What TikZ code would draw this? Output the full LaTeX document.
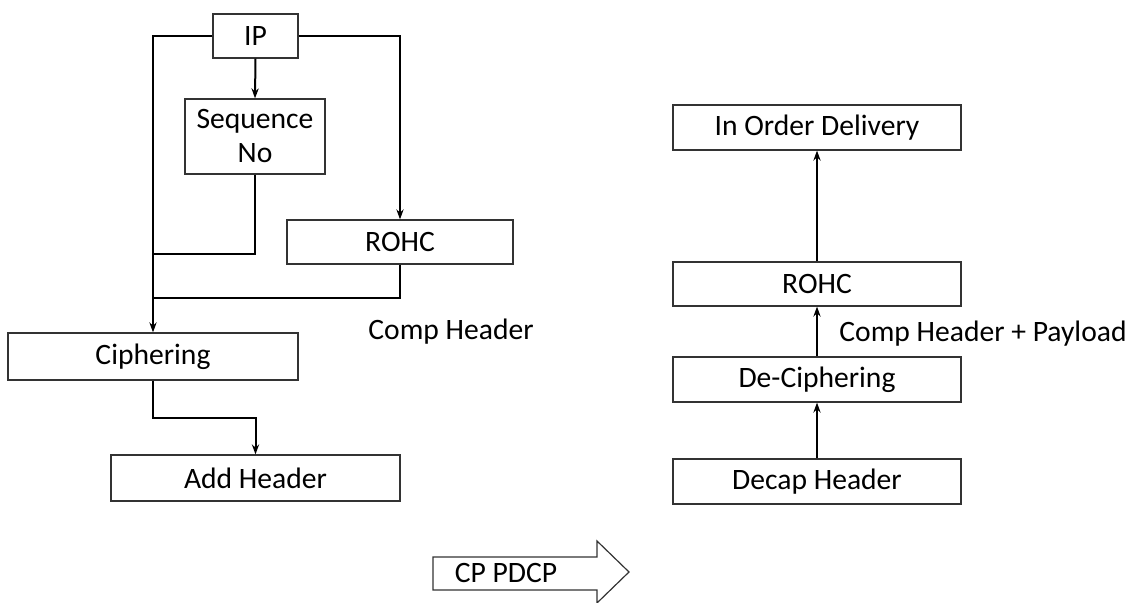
\documentclass[tikz,border=0pt]{standalone}
\usepackage{fontspec}
\setmainfont{Carlito}
\usetikzlibrary{arrows.meta}
\begin{document}
\begin{tikzpicture}[x=0.5pt,y=-0.5pt,
  font=\fontsize{14.8}{17}\selectfont,
  stagebox/.style={draw=black!80,line width=0.6pt,inner sep=0pt,align=center,minimum height=22pt},
  conn/.style={line width=1pt,black},
  arr/.style={conn,-{Stealth[length=5pt,width=3.6pt]}},
  plainlbl/.style={inner sep=0pt}]
\useasboundingbox (0,0) rectangle (1126,603);
% left side
\node[stagebox,minimum width=42.5pt] (ip) at (255.5,36) {IP};
\node[stagebox,minimum width=70pt,minimum height=37.5pt] (seq) at (255,136.5) {Sequence\\No};
\node[stagebox,minimum width=113pt] (rohcL) at (400,242) {ROHC};
\node[stagebox,minimum width=145pt,minimum height=23.5pt] (ciph) at (153,356.5) {Ciphering};
\node[stagebox,minimum width=144.5pt,minimum height=23pt] (addh) at (255.5,478) {Add Header};
\node[plainlbl] (comp) at (451,332) {Comp Header};
\coordinate (j1) at (153,254);
\coordinate (j2) at (153,298);
\draw[arr] (ip.west) -| (ciph.north);
\draw[arr] (ip.south) -- (seq.north);
\draw[arr] (ip.east) -| (rohcL.north);
\draw[conn] (seq.south) |- (j1);
\draw[conn] (rohcL.south) |- (j2);
\draw[arr] (ciph.south) -- ++(0,37) -| (addh.north);
% right side
\node[stagebox,minimum width=144pt,minimum height=22.5pt] (iod) at (817,127.5) {In Order Delivery};
\node[stagebox,minimum width=144pt] (rohcR) at (817,284) {ROHC};
\node[stagebox,minimum width=144pt,minimum height=22.5pt] (deciph) at (817,379.5) {De-Ciphering};
\node[stagebox,minimum width=144pt,minimum height=22.5pt] (decap) at (817,481.5) {Decap Header};
\node[plainlbl,anchor=west] (cpl) at (839,334) {Comp Header + Payload};
\draw[arr] (decap.north) -- (deciph.south);
\draw[arr] (deciph.north) -- (rohcR.south);
\draw[arr] (rohcR.north) -- (iod.south);
% CP PDCP arrow
\draw[line width=0.6pt,draw=black!80] (433,557) -- (597,557) -- (597,541) -- (629,572) -- (597,603) -- (597,590) -- (433,590) -- cycle;
\node[plainlbl] (cp) at (506,573) {CP PDCP};
\end{tikzpicture}
\end{document}
